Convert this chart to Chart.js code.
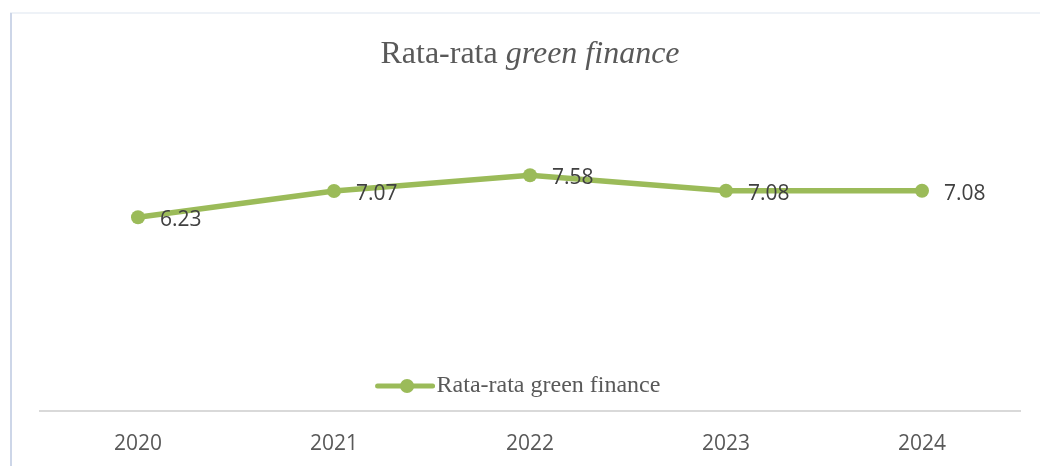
<!DOCTYPE html>
<html>
<head>
<meta charset="utf-8">
<script src="https://cdn.jsdelivr.net/npm/chart.js@4"></script>
<style>
    html, body { margin: 0; padding: 0; background: #ffffff; }
    #wrap { width: 1040px; height: 466px; position: relative; }
</style>
</head>
<body>
<div id="wrap"><canvas id="greenChart"></canvas></div>
<script>
const years = ["2020", "2021", "2022", "2023", "2024"];
const averages = [6.23, 7.07, 7.58, 7.08, 7.08];
const seriesLabel = "Rata-rata green finance";
const titleMain = "Rata-rata ";
const titleItalic = "green finance";

const lineColor = "#9BBB59";

// --- Frame, title, value labels and in-plot legend ---
const decorPlugin = {
    id: "decor",
    beforeDraw(chart) {
        const ctx = chart.ctx;
        ctx.save();
        ctx.lineWidth = 2;
        ctx.strokeStyle = "#eef2f7";
        ctx.beginPath();
        ctx.moveTo(10, 13);
        ctx.lineTo(chart.width, 13);
        ctx.stroke();
        ctx.strokeStyle = "#cdd6e8";
        ctx.beginPath();
        ctx.moveTo(11, 13);
        ctx.lineTo(11, chart.height);
        ctx.stroke();
        ctx.restore();
    },
    afterDraw(chart) {
        const ctx = chart.ctx;
        const area = chart.chartArea;
        ctx.save();

        // title with italic part
        const cx = (area.left + area.right) / 2;
        ctx.fillStyle = "#595959";
        ctx.textBaseline = "middle";
        ctx.font = "32px 'Liberation Serif'";
        const w1 = ctx.measureText(titleMain).width;
        ctx.font = "italic 32px 'Liberation Serif'";
        const w2 = ctx.measureText(titleItalic).width;
        const x0 = cx - (w1 + w2) / 2;
        ctx.textAlign = "left";
        ctx.font = "32px 'Liberation Serif'";
        ctx.fillText(titleMain, x0, 55);
        ctx.font = "italic 32px 'Liberation Serif'";
        ctx.fillText(titleItalic, x0 + w1, 55);

        // value labels
        const meta = chart.getDatasetMeta(0);
        ctx.font = "21px 'Open Sans'";
        ctx.fillStyle = "#404040";
        meta.data.forEach((pt, i) => {
            ctx.fillText(averages[i].toFixed(2), pt.x + 22, pt.y + 3);
        });

        // legend inside plot area (sits a little left of centre)
        ctx.font = "24px 'Liberation Serif'";
        const tw = ctx.measureText(seriesLabel).width;
        const sw = 55;
        const lx = cx - 11 - (sw + 4 + tw) / 2;
        const ly = 386;
        ctx.strokeStyle = lineColor;
        ctx.lineWidth = 5;
        ctx.lineCap = "round";
        ctx.beginPath();
        ctx.moveTo(lx, ly);
        ctx.lineTo(lx + sw, ly);
        ctx.stroke();
        ctx.fillStyle = lineColor;
        ctx.beginPath();
        ctx.arc(lx + sw / 2 + 2, ly, 7, 0, Math.PI * 2);
        ctx.fill();
        ctx.fillStyle = "#595959";
        ctx.fillText(seriesLabel, lx + sw + 4, ly);

        ctx.restore();
    },
};

new Chart(document.getElementById("greenChart"), {
    type: "line",
    data: {
        labels: years,
        datasets: [
            {
                label: seriesLabel,
                data: averages,
                borderColor: lineColor,
                backgroundColor: lineColor,
                borderWidth: 5.5,
                pointRadius: 7,
                pointHoverRadius: 7,
                pointBorderWidth: 0,
                tension: 0,
                fill: false,
            },
        ],
    },
    options: {
        responsive: true,
        maintainAspectRatio: false,
        animation: false,
        layout: { padding: { left: 40, right: 20, top: 131, bottom: 0 } },
        plugins: {
            legend: { display: false },
            title: { display: false },
            tooltip: { enabled: false },
        },
        scales: {
            x: {
                offset: true,
                grid: { display: false, drawTicks: false },
                border: { display: true, color: "#d9d9d9", width: 2 },
                ticks: {
                    color: "#595959",
                    font: { family: "'Open Sans'", size: 21 },
                    padding: 20,
                },
                afterFit(scale) {
                    scale.height = 55;
                },
            },
            y: {
                display: false,
                min: 0,
                max: 9,
            },
        },
    },
    plugins: [decorPlugin],
});
</script>
</body>
</html>
